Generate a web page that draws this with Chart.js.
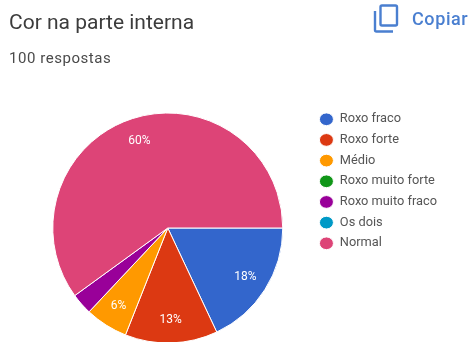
<!DOCTYPE html>
<html>
<head>
<meta charset="utf-8">
<style>
  html, body { margin: 0; background: #fff; overflow: hidden; width: 471px; height: 342px; font-family: Roboto, sans-serif; }
  #title { position: absolute; left: 9px; top: 9px; font-size: 21px; line-height: 26px; color: #3c3c3c; white-space: nowrap; }
  #count { position: absolute; left: 9px; top: 49px; font-size: 15px; line-height: 18px; color: #4a4a4a; letter-spacing: 0.55px; white-space: nowrap; }
  #copy { position: absolute; left: 412px; top: 8px; font-size: 18px; line-height: 22px; font-weight: 500; color: #4a7fd0; letter-spacing: 0.6px; white-space: nowrap; }
  #icon { position: absolute; left: 372px; top: 3px; }
  #wrap { position: absolute; left: 0; top: 0; width: 471px; height: 360px; }
</style>
<script src="https://cdn.jsdelivr.net/npm/chart.js@4"></script>
</head>
<body>
<div id="wrap"><canvas id="chart"></canvas></div>
<div id="title">Cor na parte interna</div>
<div id="count">100 respostas</div>
<svg id="icon" width="28" height="32" viewBox="0 0 28 32" fill="none" stroke="#4a7fd0" stroke-width="2.4">
  <rect x="8.5" y="2.5" width="16.5" height="20" rx="1.5"></rect>
  <path d="M3 8 V27 a1.5 1.5 0 0 0 1.5 1.5 H21"></path>
</svg>
<div id="copy">Copiar</div>
<script>
var categories = ["Roxo fraco", "Roxo forte", "Médio", "Roxo muito forte", "Roxo muito fraco", "Os dois", "Normal"];
var values = [18, 13, 6, 0, 3, 0, 60];
var colors = ["#3366cc", "#dc3912", "#ff9900", "#109618", "#990099", "#0099c6", "#dd4477"];
// smallest share that still gets a label on its slice
var minLabelled = 5;

var sliceLabels = {
	id: 'sliceLabels',
	afterDatasetsDraw: function (chart) {
		var ctx = chart.ctx;
		var total = values.reduce(function (a, b) { return a + b; }, 0);
		ctx.save();
		ctx.fillStyle = '#fff';
		ctx.font = '12px Roboto';
		ctx.textAlign = 'center';
		ctx.textBaseline = 'middle';
		chart.getDatasetMeta(0).data.forEach(function (arc, i) {
			if (values[i] < minLabelled) return;
			var mid = (arc.startAngle + arc.endAngle) / 2;
			var r = arc.outerRadius * 0.8;
			ctx.fillText(Math.round(values[i] / total * 100) + '%', arc.x + Math.cos(mid) * r, arc.y + Math.sin(mid) * r);
		});
		ctx.restore();
	}
};

new Chart(document.getElementById('chart'), {
	type: 'pie',
	data: {
		labels: categories,
		datasets: [{
			data: values,
			backgroundColor: colors,
			borderColor: '#fff',
			borderWidth: 1
		}]
	},
	options: {
		responsive: true,
		maintainAspectRatio: false,
		animation: false,
		rotation: 90,
		radius: 115,
		layout: { padding: { top: 105, bottom: 9, left: 24, right: 24 } },
		plugins: {
			tooltip: { enabled: false },
			legend: {
				position: 'right',
				align: 'start',
				labels: {
					usePointStyle: true,
					pointStyle: 'circle',
					pointStyleWidth: 14,
					boxHeight: 9,
					padding: 7.87,
					color: '#555',
					font: { family: 'Roboto', size: 12.8 }
				}
			}
		}
	},
	plugins: [sliceLabels]
});
</script>
</body>
</html>
